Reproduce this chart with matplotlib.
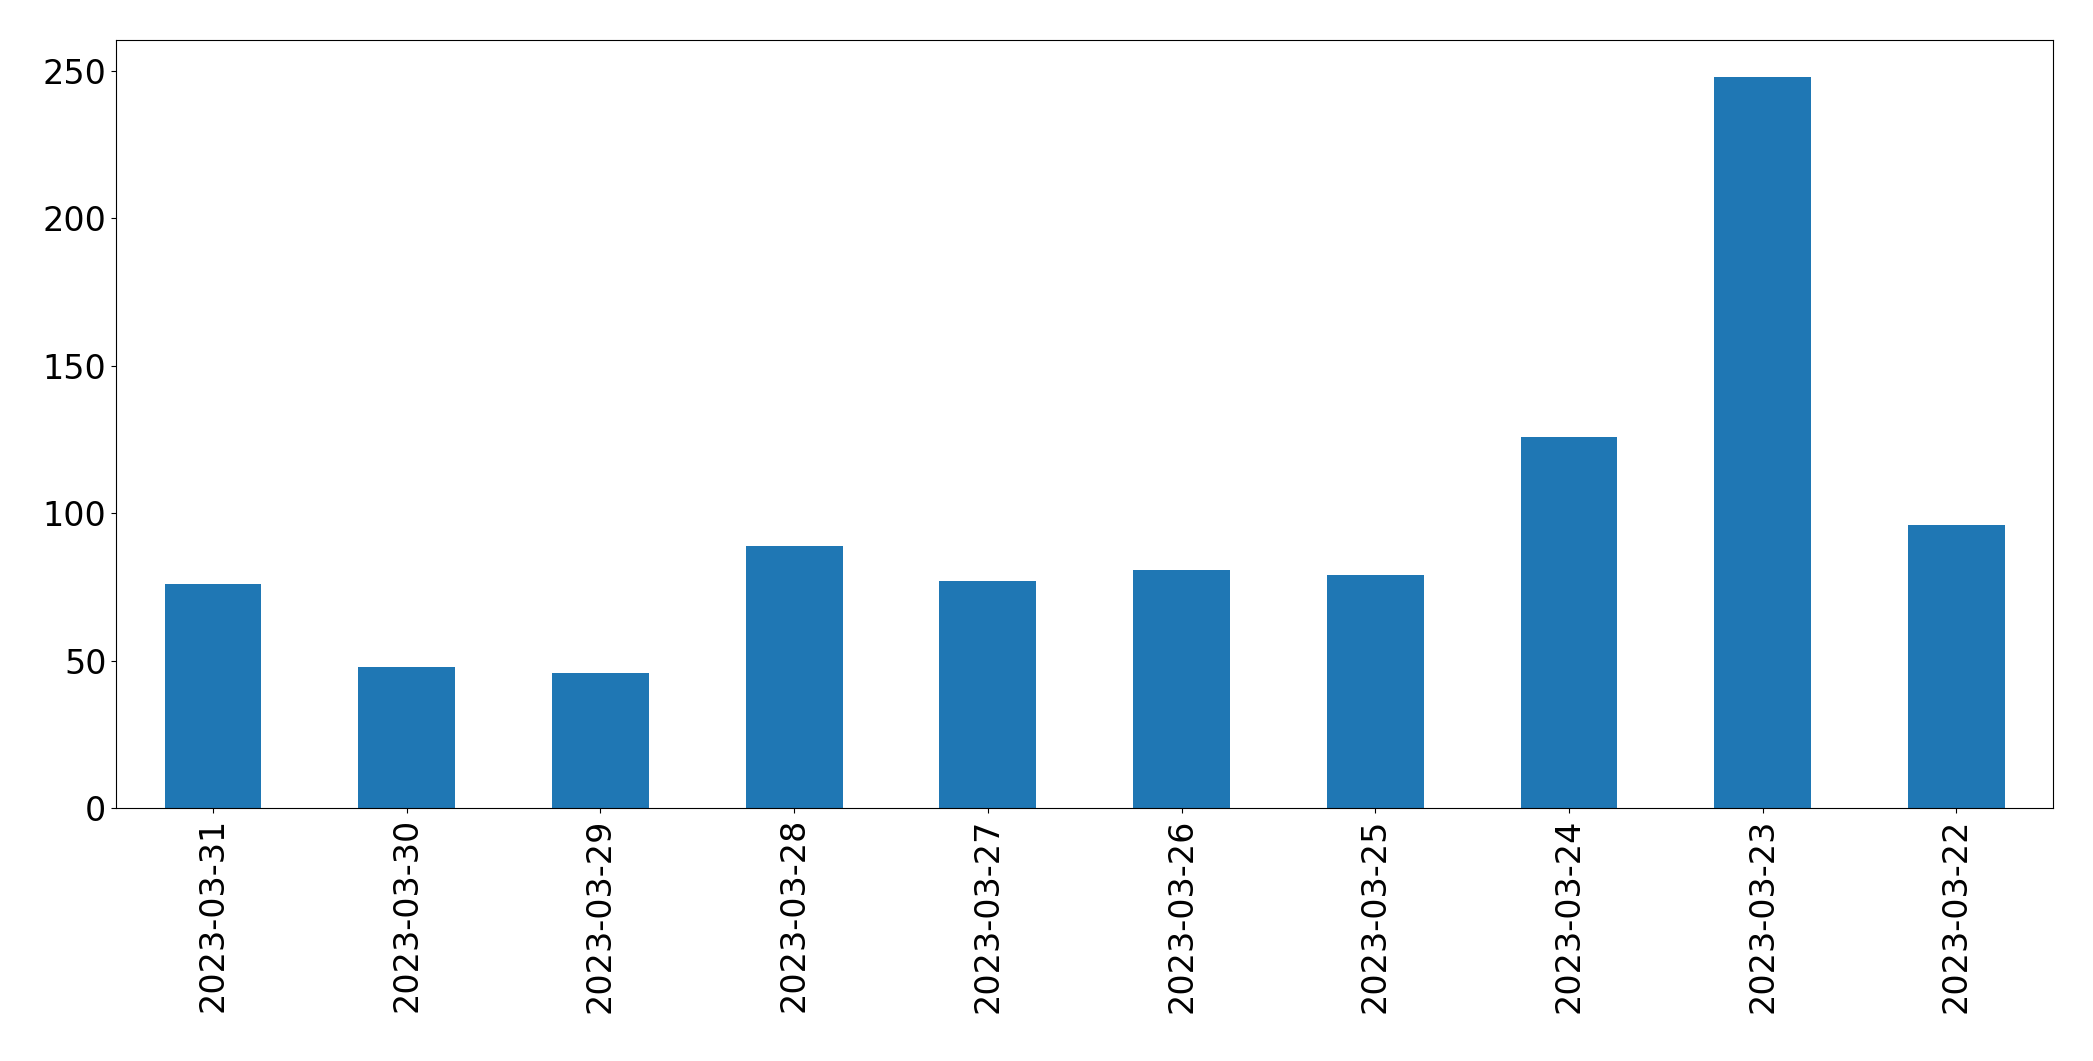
import matplotlib
matplotlib.use("Agg")
import matplotlib.pyplot as plt

dates = ["2023-03-31","2023-03-30","2023-03-29","2023-03-28","2023-03-27",
         "2023-03-26","2023-03-25","2023-03-24","2023-03-23","2023-03-22"]
counts = [76, 48, 46, 89, 77, 81, 79, 126, 248, 96]

fig = plt.figure(figsize=(20.93, 10.61), dpi=100)
ax = fig.add_axes([0.0555, 0.238, 0.9255, 0.724])
x = range(len(dates))
ax.bar(x, counts, width=0.5, color="#1f77b4")
ax.set_xlim(-0.5, len(dates) - 0.5)
ax.set_xticks(list(x))
ax.set_xticklabels(dates, rotation=90)
ax.tick_params(labelsize=24)
fig.savefig("out.png", dpi=100)
